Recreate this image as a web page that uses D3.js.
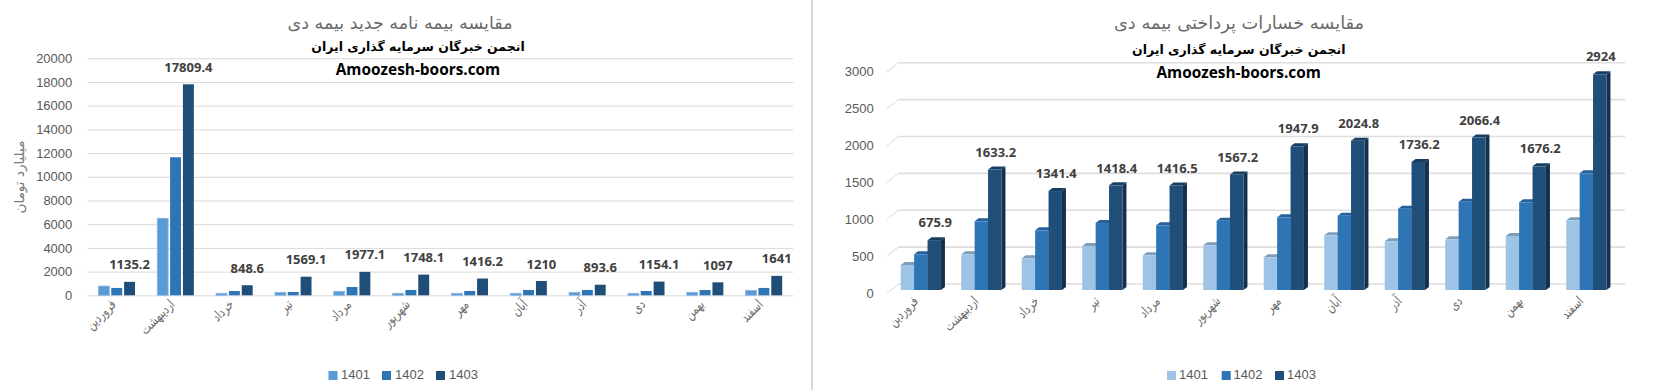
<!DOCTYPE html>
<html>
<head>
<meta charset="utf-8">
<script src="https://cdnjs.cloudflare.com/ajax/libs/d3/7.8.5/d3.min.js"></script>
<style>
body { margin:0; background:#fff; }
svg { display:block; font-family:"Liberation Sans", sans-serif; }
.domain { display:none; }
</style>
</head>
<body>
<svg id="chart" width="1655" height="390"></svg>
<script>
const months = ['فروردین','اردیبهشت','خرداد','تیر','مرداد','شهریور','مهر','آبان','آذر','دی','بهمن','اسفند'];
const years = ['1401','1402','1403'];

const newPolicy1401 = [780,6500,170,250,340,170,170,170,250,170,250,420];
const newPolicy1402 = [620,11650,365,280,700,450,365,450,450,365,450,620];
const newPolicy1403 = [1135.2,17809.4,848.6,1569.1,1977.1,1748.1,1416.2,1210,893.6,1154.1,1097,1641];

const claims1401 = [339,484,430,597,470,606,443,741,660,687,732,945];
const claims1402 = [484,931,809,908,877,940,985,1008,1103,1198,1189,1582];
const claims1403 = [675.9,1633.2,1341.4,1418.4,1416.5,1567.2,1947.9,2024.8,1736.2,2066.4,1676.2,2924];

const newPolicyTicks = [0,2000,4000,6000,8000,10000,12000,14000,16000,18000,20000];
const claimsTicks = [0,500,1000,1500,2000,2500,3000];

const leftTitle = 'مقایسه بیمه نامه جدید بیمه دی';
const rightTitle = 'مقایسه خسارات پرداختی بیمه دی';
const subTitle = 'انجمن خبرگان سرمایه گذاری ایران';
const siteName = 'Amoozesh-boors.com';
const yAxisTitle = 'میلیارد تومان';

const arabicFont = '"DejaVu Sans", sans-serif';
const labelColor = '#404040';
const axisColor = '#595959';

let svg = d3.select('#chart');

// divider between the two charts
svg.append('rect').attr('x', 811).attr('y', 0).attr('width', 2).attr('height', 390).attr('fill', '#d9d9d9');

function headings(cx, titleText, titleX, titleSize, titleY, subY, siteY) {
    svg.append('text').attr('x', titleX).attr('y', titleY)
    .attr('text-anchor', 'middle').attr('dominant-baseline', 'middle')
    .style('font-family', arabicFont).style('font-size', titleSize + 'px').attr('fill', '#6b6b6b')
    .text(titleText);
    svg.append('text').attr('x', cx).attr('y', subY)
    .attr('text-anchor', 'middle').attr('dominant-baseline', 'middle')
    .style('font-family', arabicFont).style('font-size', '12.5px').style('font-weight', 'bold').attr('fill', '#000')
    .text(subTitle);
    svg.append('text').attr('x', cx).attr('y', siteY)
    .attr('text-anchor', 'middle').attr('dominant-baseline', 'middle')
    .style('font-family', '"Open Sans", sans-serif').style('font-size', '15.4px').style('font-weight', 'bold').attr('fill', '#000')
    .text(siteName);
}

function legend(colors, swatchX, textX, y) {
    years.forEach((year, i) => {
        svg.append('rect').attr('x', swatchX[i]).attr('y', y - 4.5).attr('width', 9).attr('height', 9).attr('fill', colors[i]);
        svg.append('text').attr('x', textX[i]).attr('y', y).attr('dominant-baseline', 'middle')
        .style('font-size', '13px').attr('fill', axisColor).text(year);
    });
}

function monthAxis(x, axisY, dx, dy) {
    let g = svg.append('g').attr('transform', `translate(0,${axisY})`)
    .call(d3.axisBottom(x).tickSize(0).tickPadding(0));
    // the reference face is narrow and tall, so squeeze the glyphs along the baseline
    g.selectAll('text')
    .attr('text-anchor', 'end')
    .attr('x', 0).attr('y', 0).attr('dy', 0)
    .attr('transform', `translate(${dx},${dy}) rotate(-45) scale(0.82,1.1)`)
    .style('font-family', arabicFont).style('font-size', '12.5px').attr('fill', '#6e6e6e');
}

function yLabels(g) {
    g.selectAll('text').style('font-size', '13px').attr('fill', axisColor);
}

/* ---- left chart, flat columns ---- */
function buildLeft() {
    let x = d3.scaleBand().domain(months).range([87.3, 793.3]);
    let y = d3.scaleLinear().domain([0, 20000]).range([295.3, 58.3]);
    let barX = d3.scaleBand().domain(years).range([-18.3, 18.3]).paddingInner(0.15).paddingOuter(0);
    let colors = ['#5b9bd5', '#2e75b6', '#1f4e79'];
    let series = [newPolicy1401, newPolicy1402, newPolicy1403];

    let grid = svg.append('g').attr('transform', 'translate(87.3,0)')
    .call(d3.axisLeft(y).tickValues(newPolicyTicks).tickFormat(d3.format('d')).tickSize(-706).tickPadding(15));
    grid.selectAll('line').attr('stroke', '#d9d9d9');
    yLabels(grid);

    monthAxis(x, 295.3, 0, 10);

    series.forEach((values, s) => {
        svg.append('g').selectAll('rect')
        .data(values)
        .enter()
        .append('rect')
        .attr('x', (d, i) => x(months[i]) + x.bandwidth() / 2 + barX(years[s]))
        .attr('y', (d) => y(d))
        .attr('width', barX.bandwidth())
        .attr('height', (d) => y(0) - y(d))
        .attr('fill', colors[s])
        .attr('stroke', s == 0 ? '#8db8e2' : 'none')
        .attr('stroke-width', s == 0 ? 0.8 : 0);
    });

    svg.append('g').selectAll('text')
    .data(newPolicy1403)
    .enter()
    .append('text')
    .attr('x', (d, i) => x(months[i]) + x.bandwidth() / 2 + barX('1403') + barX.bandwidth() / 2)
    .attr('y', (d) => y(d) - 16)
    .attr('text-anchor', 'middle').attr('dominant-baseline', 'middle')
    .style('font-family', '"Noto Sans", sans-serif').style('font-size', '13px').style('font-weight', 'bold').attr('fill', labelColor)
    .text((d) => d);

    svg.append('text')
    .attr('transform', 'translate(20,177) rotate(-90)')
    .attr('text-anchor', 'middle').attr('dominant-baseline', 'middle')
    .style('font-family', arabicFont).style('font-size', '13.5px').attr('fill', '#7a7a7a')
    .text(yAxisTitle);

    headings(418, leftTitle, 400, 17.5, 23.5, 47, 71);
    legend(colors, [328.5, 382, 436], [341, 395, 449], 375.5);
}

/* ---- right chart, columns with a depth offset ---- */
function buildRight() {
    const depthX = 4, depthY = 3;   // how far the column side and top lean back
    const backX = 11.6, backY = 9.4; // floor offset of the back wall
    let x = d3.scaleBand().domain(months).range([890.6, 1616.6]);
    let y = d3.scaleLinear().domain([0, 3000]).range([290, 68.7]);
    let barX = d3.scaleBand().domain(years).range([-20.1, 20.1]);
    let front = ['#9dc3e6', '#2e75b6', '#1f4e79'];
    let top = ['#7f9db9', '#25609a', '#183e61'];
    let side = ['#7a98b3', '#1f4f7c', '#14304d'];
    let series = [claims1401, claims1402, claims1403];

    // back wall gridlines plus the short diagonal on the left
    let wallY = (v) => y(v) - 6;
    let grid = svg.append('g').attr('transform', `translate(886.7,3)`)
    .call(d3.axisLeft(y).tickValues(claimsTicks).tickFormat(d3.format('d')).tickSize(0).tickPadding(13));
    yLabels(grid);
    svg.append('g').selectAll('line.wall')
    .data(claimsTicks)
    .enter()
    .append('line').attr('class', 'wall')
    .attr('x1', 886.7 + backX).attr('x2', 1625)
    .attr('y1', wallY).attr('y2', wallY)
    .attr('stroke', '#dedede').attr('stroke-width', 1.6);
    svg.append('g').selectAll('line.diag')
    .data(claimsTicks)
    .enter()
    .append('line').attr('class', 'diag')
    .attr('x1', 886.7).attr('x2', 886.7 + backX)
    .attr('y1', (d) => wallY(d) + backY).attr('y2', wallY)
    .attr('stroke', '#d9d9d9').attr('stroke-width', 1);

    monthAxis(x, 290, -2, 12);

    // tallest at the back of the paint order so each side face stays visible
    series.forEach((values, s) => {
        let g = svg.append('g');
        let bx = (i) => x(months[i]) + x.bandwidth() / 2 + barX(years[s]);
        let w = barX.bandwidth();
        g.selectAll('path.side')
        .data(values)
        .enter()
        .append('path').attr('class', 'side')
        .attr('d', (d, i) => `M${bx(i) + w},${y(d)}l${depthX},${-depthY}V${y(0) - depthY}l${-depthX},${depthY}Z`)
        .attr('fill', side[s]);
        g.selectAll('path.top')
        .data(values)
        .enter()
        .append('path').attr('class', 'top')
        .attr('d', (d, i) => `M${bx(i)},${y(d)}l${depthX},${-depthY}h${w}l${-depthX},${depthY}Z`)
        .attr('fill', top[s]);
        g.selectAll('rect')
        .data(values)
        .enter()
        .append('rect')
        .attr('x', (d, i) => bx(i))
        .attr('y', (d) => y(d))
        .attr('width', w)
        .attr('height', (d) => y(0) - y(d))
        .attr('fill', front[s]);
    });

    svg.append('g').selectAll('text')
    .data(claims1403)
    .enter()
    .append('text')
    .attr('x', (d, i) => x(months[i]) + x.bandwidth() / 2 + barX('1403') + barX.bandwidth() / 2 + 1)
    .attr('y', (d) => y(d) - 16.4)
    .attr('text-anchor', 'middle').attr('dominant-baseline', 'middle')
    .style('font-family', '"Noto Sans", sans-serif').style('font-size', '13px').style('font-weight', 'bold').attr('fill', labelColor)
    .text((d) => d);

    headings(1238.7, rightTitle, 1239, 17.8, 23.5, 50, 74);
    legend(['#9dc3e6', '#2e75b6', '#1f4e79'], [1167, 1221.7, 1275], [1179, 1233.5, 1287], 375.5);
}

buildLeft();
buildRight();
</script>
</body>
</html>
